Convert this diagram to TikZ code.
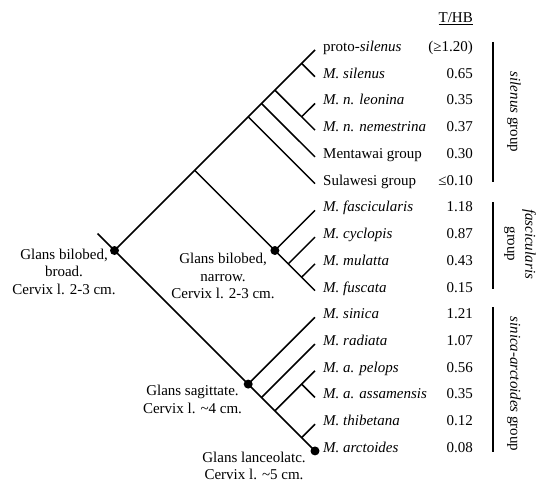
\documentclass[tikz,border=0pt]{standalone}
\usepackage{fontspec}
\setmainfont{Liberation Serif}
\begin{document}
\begin{tikzpicture}[x=1pt,y=-1pt,
  br/.style={line width=1.5pt},
  bardraw/.style={line width=1.5pt},
  dotnode/.style={circle,fill=black,inner sep=0pt,minimum size=9pt},
  taxon/.style={anchor=base west,inner sep=0pt,font=\fontsize{15}{18}\selectfont},
  val/.style={anchor=base east,inner sep=0pt,font=\fontsize{15}{18}\selectfont},
  note/.style={align=center,inner sep=0pt,font=\fontsize{15}{17.5}\selectfont},
  grp/.style={rotate=-90,align=center,inner sep=0pt,font=\fontsize{15}{18}\selectfont}]
\useasboundingbox (0,0) rectangle (538,484);
% tips
\coordinate (t0) at (315,50);
\coordinate (t1) at (315,76.73);
\coordinate (t2) at (315,103.46);
\coordinate (t3) at (315,130.19);
\coordinate (t4) at (315,156.92);
\coordinate (t5) at (315,183.65);
\coordinate (t6) at (315,210.38);
\coordinate (t7) at (315,237.11);
\coordinate (t8) at (315,263.84);
\coordinate (t9) at (315,290.57);
\coordinate (t10) at (315,317.3);
\coordinate (t11) at (315,344.03);
\coordinate (t12) at (315,370.76);
\coordinate (t13) at (315,397.49);
\coordinate (t14) at (315,424.22);
\coordinate (t15) at (315,450.95);
% inner nodes
\coordinate (n01) at (301.6,63.4);
\coordinate (n23) at (301.6,116.8);
\coordinate (n03) at (274.9,90.1);
\coordinate (n04) at (261.5,103.5);
\coordinate (n05) at (248.2,116.8);
\coordinate (n09) at (194.7,170.3);
\coordinate (n69) at (274.9,250.5);
\coordinate (n79) at (288.3,263.8);
\coordinate (n89) at (301.6,277.2);
\coordinate (root) at (114.5,250.5);
\coordinate (stem) at (97.5,233.5);
\coordinate (n1015) at (248.2,384.1);
\coordinate (n1115) at (261.5,397.5);
\coordinate (n1215) at (274.9,410.9);
\coordinate (n1213) at (301.6,384.1);
\coordinate (n1415) at (301.6,437.6);
% branches
\draw[br] (stem) -- (root) -- (t15);
\draw[br] (root) -- (t0);
\draw[br] (n01) -- (t1);
\draw[br] (n03) -- (t3);
\draw[br] (n23) -- (t2);
\draw[br] (n04) -- (t4);
\draw[br] (n05) -- (t5);
\draw[br] (n09) -- (t9);
\draw[br] (n69) -- (t6);
\draw[br] (n79) -- (t7);
\draw[br] (n89) -- (t8);
\draw[br] (n1015) -- (t10);
\draw[br] (n1115) -- (t11);
\draw[br] (n1215) -- (t12);
\draw[br] (n1213) -- (t13);
\draw[br] (n1415) -- (t14);
% dots
\node[dotnode] (d0) at (root) {};
\node[dotnode] (d1) at (n69) {};
\node[dotnode] (d2) at (n1015) {};
\node[dotnode] (d3) at (t15) {};
% header
\node[val] (hdr) at (473,23) {\underline{T/HB}};
% taxa
\node[taxon] (l0) at (323,51.5) {proto-\textit{silenus}};
\node[taxon] (l1) at (323,78.23) {\textit{M. silenus}};
\node[taxon] (l2) at (323,104.96) {\textit{M. n. leonina}};
\node[taxon] (l3) at (323,131.69) {\textit{M. n. nemestrina}};
\node[taxon] (l4) at (323,158.42) {Mentawai group};
\node[taxon] (l5) at (323,185.15) {Sulawesi group};
\node[taxon] (l6) at (323,211.88) {\textit{M. fascicularis}};
\node[taxon] (l7) at (323,238.61) {\textit{M. cyclopis}};
\node[taxon] (l8) at (323,265.34) {\textit{M. mulatta}};
\node[taxon] (l9) at (323,292.07) {\textit{M. fuscata}};
\node[taxon] (l10) at (323,318.8) {\textit{M. sinica}};
\node[taxon] (l11) at (323,345.53) {\textit{M. radiata}};
\node[taxon] (l12) at (323,372.26) {\textit{M. a. pelops}};
\node[taxon] (l13) at (323,398.99) {\textit{M. a. assamensis}};
\node[taxon] (l14) at (323,425.72) {\textit{M. thibetana}};
\node[taxon] (l15) at (323,452.45) {\textit{M. arctoides}};
% values
\node[val] (v0) at (473,51.5) {(≥1.20)};
\node[val] (v1) at (473,78.23) {0.65};
\node[val] (v2) at (473,104.96) {0.35};
\node[val] (v3) at (473,131.69) {0.37};
\node[val] (v4) at (473,158.42) {0.30};
\node[val] (v5) at (473,185.15) {≤0.10};
\node[val] (v6) at (473,211.88) {1.18};
\node[val] (v7) at (473,238.61) {0.87};
\node[val] (v8) at (473,265.34) {0.43};
\node[val] (v9) at (473,292.07) {0.15};
\node[val] (v10) at (473,318.8) {1.21};
\node[val] (v11) at (473,345.53) {1.07};
\node[val] (v12) at (473,372.26) {0.56};
\node[val] (v13) at (473,398.99) {0.35};
\node[val] (v14) at (473,425.72) {0.12};
\node[val] (v15) at (473,452.45) {0.08};
% group bars
\coordinate (b1a) at (493,42);
\coordinate (b1b) at (493,182);
\coordinate (b2a) at (493,202);
\coordinate (b2b) at (493,289);
\coordinate (b3a) at (493,307);
\coordinate (b3b) at (493,452);
\draw[bardraw] (b1a) -- (b1b);
\draw[bardraw] (b2a) -- (b2b);
\draw[bardraw] (b3a) -- (b3b);
\node[grp] (g1) at (514,112) {\textit{silenus} group};
\node[grp] (g2) at (520,244) {\textit{fascicularis}\\group};
\node[grp] (g3) at (514,384) {\textit{sinica-arctoides} group};
% character notes
\node[note] (c1) at (64,271.5) {Glans bilobed,\\broad.\\Cervix l. 2-3 cm.};
\node[note] (c2) at (223,276) {Glans bilobed,\\narrow.\\Cervix l. 2-3 cm.};
\node[note] (c3) at (192.5,399.5) {Glans sagittate.\\Cervix l. \textasciitilde4 cm.};
\node[note] (c4) at (254,466) {Glans lanceolatc.\\Cervix l. \textasciitilde5 cm.};
\end{tikzpicture}
\end{document}
